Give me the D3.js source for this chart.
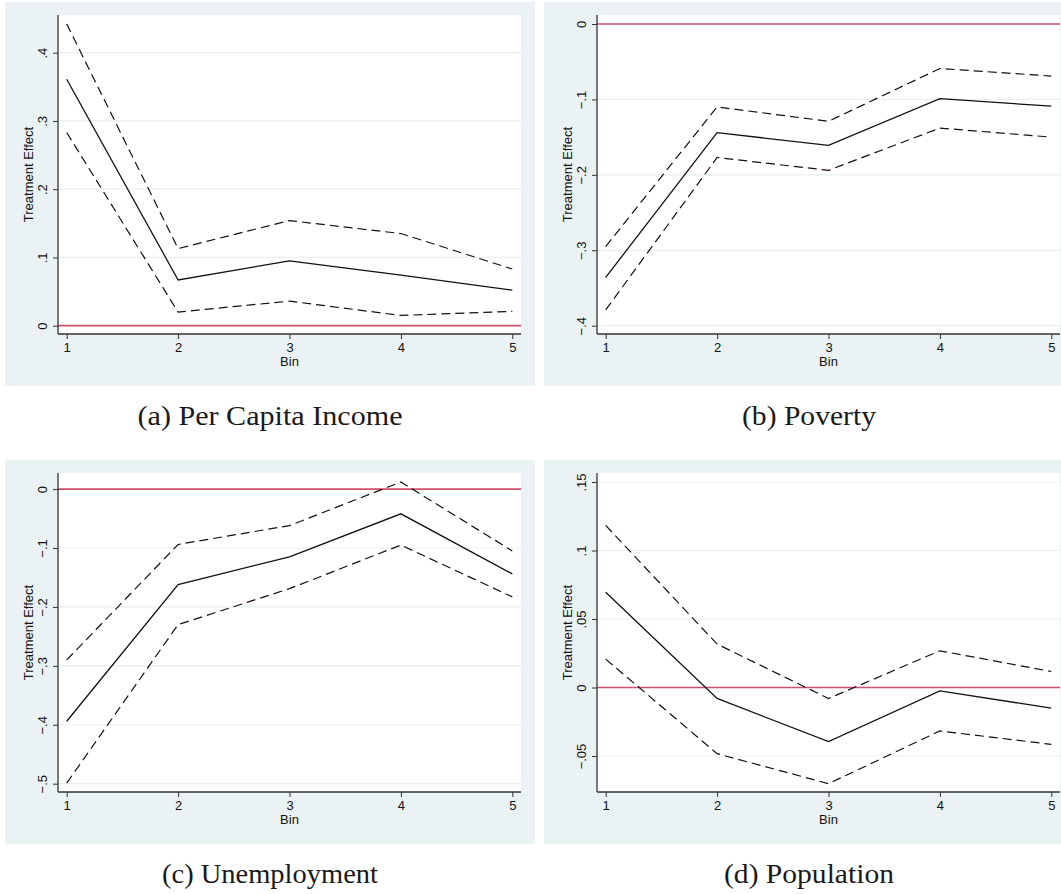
<!DOCTYPE html>
<html>
<head>
<meta charset="utf-8">
<script src="https://cdn.jsdelivr.net/npm/d3@7"></script>
<style>
  body { margin: 0; background: #fff; }
  svg { display: block; }
  .tick text, .ttl { font-family: "Liberation Sans", Arial, sans-serif; font-size: 13px; fill: #111; }
  .cap { font-family: "Liberation Serif", "Times New Roman", serif; font-size: 27px; fill: #1a1a1a; }
</style>
</head>
<body>
<div id="chart"></div>
<script>
// bins on the x axis
var bins = [1, 2, 3, 4, 5];

// (a) per capita income
var incomeEst = [0.361, 0.067, 0.095, 0.074, 0.052];
var incomeHi  = [0.442, 0.113, 0.154, 0.135, 0.083];
var incomeLo  = [0.283, 0.020, 0.036, 0.015, 0.021];
var incomeTicks = [0, 0.1, 0.2, 0.3, 0.4];

// (b) poverty
var povertyEst = [-0.336, -0.144, -0.161, -0.099, -0.109];
var povertyHi  = [-0.295, -0.110, -0.129, -0.059, -0.069];
var povertyLo  = [-0.379, -0.177, -0.194, -0.138, -0.150];
var povertyTicks = [-0.4, -0.3, -0.2, -0.1, 0];

// (c) unemployment
var unempEst = [-0.394, -0.162, -0.115, -0.042, -0.144];
var unempHi  = [-0.290, -0.094, -0.062, 0.012, -0.105];
var unempLo  = [-0.499, -0.230, -0.169, -0.095, -0.183];
var unempTicks = [-0.5, -0.4, -0.3, -0.2, -0.1, 0];

// (d) population
var popEst = [0.0695, -0.008, -0.0395, -0.0024, -0.0151];
var popHi  = [0.1183, 0.0317, -0.008, 0.0268, 0.0117];
var popLo  = [0.0207, -0.0483, -0.0702, -0.0317, -0.0415];
var popTicks = [-0.05, 0, 0.05, 0.1, 0.15];

var captions = ["(a) Per Capita Income", "(b) Poverty", "(c) Unemployment", "(d) Population"];

var panels = [
  { est: incomeEst, hi: incomeHi, lo: incomeLo, ticks: incomeTicks, col: 0, row: 0 },
  { est: povertyEst, hi: povertyHi, lo: povertyLo, ticks: povertyTicks, col: 1, row: 0 },
  { est: unempEst, hi: unempHi, lo: unempLo, ticks: unempTicks, col: 0, row: 1 },
  { est: popEst, hi: popHi, lo: popLo, ticks: popTicks, col: 1, row: 1 }
];

var W = 1061, H = 894;
var bgW = 530, bgH = 384;
var colX = [5, 544], rowY = [2, 460];
var capW = [265, 134, 216, 170];
var plot = { left: 53, top: 13, width: 463, height: 319 };

var svg = d3.select("#chart").append("svg")
    .attr("width", W)
    .attr("height", H);

function fmt(v) {
    if (Math.abs(v) < 1e-9) return "0";
    return d3.format("")(+v.toFixed(4)).replace("0.", ".");
}

panels.forEach(function (p, i) {
    var g = svg.append("g")
        .attr("transform", "translate(" + colX[p.col] + "," + rowY[p.row] + ")");

    // graph region background
    g.append("rect")
        .attr("width", bgW).attr("height", bgH)
        .attr("fill", "#eaf2f3");

    var pg = g.append("g").attr("transform", "translate(" + plot.left + "," + plot.top + ")");

    pg.append("rect")
        .attr("width", plot.width).attr("height", plot.height)
        .attr("fill", "#fff");

    var allVals = p.est.concat(p.hi, p.lo, p.ticks);
    var x = d3.scaleLinear()
        .domain(d3.extent(bins))
        .range([8.7, plot.width - 8.7]);
    var y = d3.scaleLinear()
        .domain(d3.extent(allVals))
        .range([plot.height - 8.3, 9]);

    // grid lines
    pg.selectAll(".grid")
        .data(p.ticks)
        .enter().append("line")
        .attr("x1", 0).attr("x2", plot.width)
        .attr("y1", function (d) { return y(d); })
        .attr("y2", function (d) { return y(d); })
        .attr("stroke", "#e6eff1")
        .attr("stroke-width", 1.2);

    // reference line at zero
    pg.append("line")
        .attr("x1", 0).attr("x2", plot.width)
        .attr("y1", y(0)).attr("y2", y(0))
        .attr("stroke", "#d0506e")
        .attr("stroke-width", 1.7);

    var line = d3.line()
        .x(function (d, j) { return x(bins[j]); })
        .y(function (d) { return y(d); });

    [p.hi, p.lo].forEach(function (s) {
        pg.append("path")
            .attr("d", line(s))
            .attr("fill", "none")
            .attr("stroke", "#111")
            .attr("stroke-width", 1.2)
            .attr("stroke-dasharray", "9,5");
    });

    pg.append("path")
        .attr("d", line(p.est))
        .attr("fill", "none")
        .attr("stroke", "#111")
        .attr("stroke-width", 1.3);

    // y axis
    var ya = pg.append("g")
        .call(d3.axisLeft(y).tickValues(p.ticks).tickSize(5).tickSizeOuter(0).tickFormat(fmt));
    ya.select(".domain").remove();
    ya.attr("font-size", null).attr("font-family", null);
    ya.selectAll(".tick line").attr("stroke", "#333").attr("stroke-width", 1);
    ya.selectAll(".tick text")
        .attr("x", null).attr("dy", null)
        .attr("text-anchor", "middle")
        .attr("transform", "translate(-11,0) rotate(-90)");

    // x axis
    var xa = pg.append("g")
        .attr("transform", "translate(0," + plot.height + ")")
        .call(d3.axisBottom(x).tickValues(bins).tickSize(5).tickSizeOuter(0).tickFormat(d3.format("d")));
    xa.select(".domain").remove();
    xa.attr("font-size", null).attr("font-family", null);
    xa.selectAll(".tick line").attr("stroke", "#333").attr("stroke-width", 1);
    xa.selectAll(".tick text")
        .attr("y", 18).attr("dy", null);

    // axis lines
    pg.append("line")
        .attr("x1", 0).attr("x2", 0).attr("y1", 0).attr("y2", plot.height)
        .attr("stroke", "#333").attr("stroke-width", 1.3);
    pg.append("line")
        .attr("x1", 0).attr("x2", plot.width).attr("y1", plot.height).attr("y2", plot.height)
        .attr("stroke", "#333").attr("stroke-width", 1.3);

    // axis titles
    pg.append("text")
        .attr("class", "ttl")
        .attr("text-anchor", "middle")
        .attr("transform", "translate(-25," + plot.height / 2 + ") rotate(-90)")
        .text("Treatment Effect");
    pg.append("text")
        .attr("class", "ttl")
        .attr("text-anchor", "middle")
        .attr("x", plot.width / 2)
        .attr("y", plot.height + 32)
        .text("Bin");

    // caption
    svg.append("text")
        .attr("class", "cap")
        .attr("text-anchor", "middle")
        .attr("x", colX[p.col] + bgW / 2)
        .attr("y", rowY[p.row] + 423)
        .attr("textLength", capW[i])
        .attr("lengthAdjust", "spacingAndGlyphs")
        .text(captions[i]);
});
</script>
</body>
</html>
